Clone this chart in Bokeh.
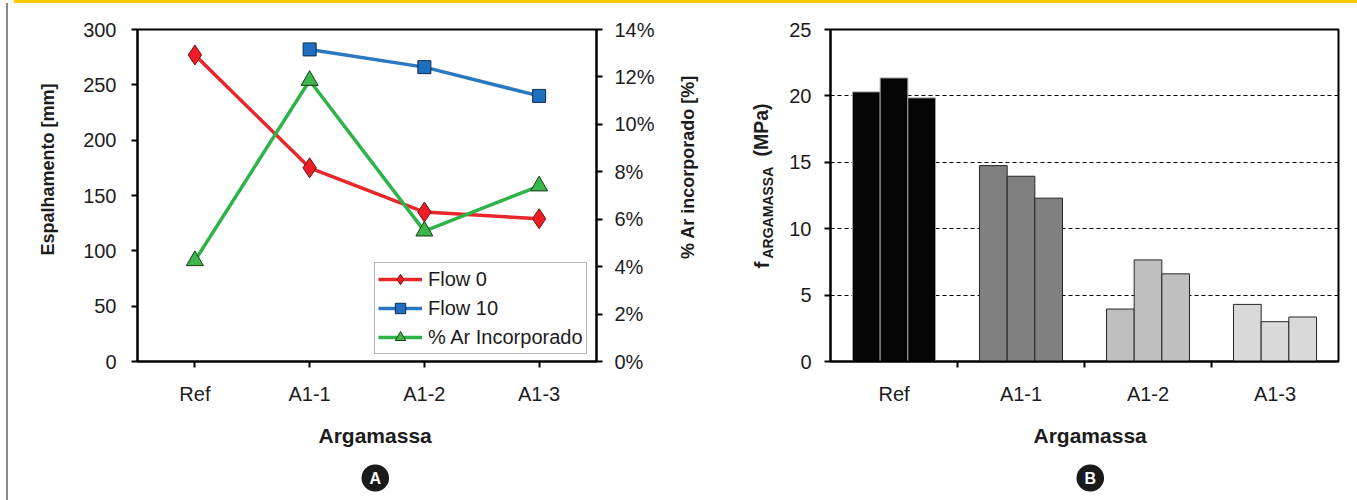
import math
from bokeh.plotting import figure
from bokeh.models import (FactorRange, Range1d, LinearAxis, FixedTicker, PrintfTickFormatter,
                          Legend, LegendItem, Label, Title, Div)
from bokeh.layouts import row, column
from bokeh.embed import file_html
from bokeh.resources import INLINE

FONT = "Liberation Sans"
TXT = "#1c1c1c"

# ---------------- data ----------------
categories = ["Ref", "A1-1", "A1-2", "A1-3"]
flow0 = [277, 175, 135, 129]
flow10 = [float("nan"), 282, 266, 240]
ar_incorporado = [4.25, 11.85, 5.5, 7.4]
spread_ticks = [0, 50, 100, 150, 200, 250, 300]
ar_ticks = [0, 2, 4, 6, 8, 10, 12, 14]

strength_1 = [20.3, 14.75, 3.95, 4.3]
strength_2 = [21.35, 13.95, 7.65, 3.0]
strength_3 = [19.85, 12.3, 6.6, 3.35]
strength_ticks = [0, 5, 10, 15, 20, 25]
bar_fill = ["#050505", "#808080", "#bfbfbf", "#d9d9d9"]
bar_line = ["#a0a0a0", "#262626", "#262626", "#262626"]


def style_axis(ax, size="20px"):
    ax.axis_line_color = "black"
    ax.axis_line_width = 2
    ax.major_tick_line_color = "black"
    ax.major_tick_line_width = 2
    ax.major_tick_in = 0
    ax.major_tick_out = 6
    ax.minor_tick_line_color = None
    ax.major_label_text_font = FONT
    ax.major_label_text_font_size = size
    ax.major_label_text_color = TXT


def x_title(text, offset):
    return Title(text=text, align="left", offset=offset, text_font=FONT,
                 text_font_size="21px", text_font_style="bold", text_color=TXT, standoff=29)


def badge(text, offset):
    return Title(text=text, align="left", offset=offset, text_font=FONT,
                 text_font_size="16px", text_font_style="bold", text_color="white",
                 background_fill_color="#1a1a1a", border_radius=14,
                 padding=dict(left=8, right=8, top=5, bottom=5), standoff=2)


def side_label(p, side, x, y, text, size, align="center"):
    p.add_layout(Label(x=x, y=y, x_units="screen", y_units="screen", text=text,
                       angle=math.pi / 2, text_font=FONT, text_font_size=size,
                       text_font_style="bold", text_color=TXT, text_align=align,
                       text_baseline="alphabetic"), side)


H = 497

# ---------------- chart A ----------------
pA = figure(width=700, height=H, x_range=FactorRange(*categories), y_range=Range1d(0, 300),
            output_backend="svg", toolbar_location=None,
            min_border_left=129, min_border_right=112, min_border_top=26, min_border_bottom=139)
pA.xgrid.visible = False
pA.ygrid.visible = False
pA.outline_line_color = "black"
pA.outline_line_width = 2

style_axis(pA.xaxis[0])
pA.xaxis[0].major_label_standoff = 15
style_axis(pA.yaxis[0])
pA.yaxis[0].ticker = FixedTicker(ticks=spread_ticks)
pA.yaxis[0].major_label_standoff = 15

pA.extra_y_ranges = {"ar": Range1d(0, 14)}
ax_r = LinearAxis(y_range_name="ar", ticker=FixedTicker(ticks=ar_ticks),
                  formatter=PrintfTickFormatter(format="%d%%"))
style_axis(ax_r)
ax_r.major_label_standoff = 12
pA.add_layout(ax_r, "right")

l0 = pA.line(categories, flow0, line_color="#e8262b", line_width=3.5)
l10 = pA.line(categories, flow10, line_color="#2a78c0", line_width=3.5)
lar = pA.line(categories, ar_incorporado, line_color="#2db34a", line_width=3.5, y_range_name="ar")
m0 = pA.scatter(categories, flow0, marker="diamond", size=20, fill_color="#ee1c25",
                line_color="#6e1010", line_width=1)
m10 = pA.scatter(categories, flow10, marker="square", size=13, fill_color="#1f6fc1",
                 line_color="#0f2a4a", line_width=1)
mar = pA.scatter(categories, ar_incorporado, marker="triangle", size=17, fill_color="#3cb54a",
                 line_color="#163d16", line_width=1, y_range_name="ar")

legend = Legend(items=[LegendItem(label="Flow 0", renderers=[l0, m0]),
                       LegendItem(label="Flow 10", renderers=[l10, m10]),
                       LegendItem(label="% Ar Incorporado", renderers=[lar, mar])],
                location=(237, 7), margin=0, padding=3, spacing=3,
                glyph_width=44, glyph_height=26, label_height=20, label_standoff=6,
                label_text_font=FONT, label_text_font_size="20px", label_text_color=TXT,
                border_line_color="#6b6b6b", border_line_width=1.5,
                background_fill_color="white", background_fill_alpha=1)
pA.add_layout(legend)
pA.add_layout(x_title("Argamassa", 181), "below")
pA.add_layout(badge("A", 224), "below")
side_label(pA, "left", -13, 192, "Espalhamento [mm]", "18px")
side_label(pA, "right", 30, 194.5, "% Ar incorporado [%]", "18px")

# ---------------- chart B ----------------
pB = figure(width=649, height=H, x_range=Range1d(0, 4), y_range=Range1d(0, 25),
            output_backend="svg", toolbar_location=None,
            min_border_left=122, min_border_right=19, min_border_top=26, min_border_bottom=139)
pB.xgrid.visible = False
pB.ygrid.ticker = FixedTicker(ticks=[5, 10, 15, 20])
pB.ygrid.grid_line_color = "black"
pB.ygrid.grid_line_dash = "4 3"
pB.ygrid.grid_line_width = 1
pB.outline_line_color = "black"
pB.outline_line_width = 2

bw = 0.218
for k, vals in enumerate([strength_1, strength_2, strength_3]):
    xs = [i + 0.5 + (k - 1) * bw for i in range(len(categories))]
    pB.vbar(x=xs, top=vals, width=bw, fill_color=bar_fill, line_color=bar_line, line_width=1)

style_axis(pB.xaxis[0])
pB.xaxis[0].ticker = FixedTicker(ticks=[i + 0.5 for i in range(len(categories))],
                                 minor_ticks=[1, 2, 3])
pB.xaxis[0].major_label_overrides = {i + 0.5: c for i, c in enumerate(categories)}
pB.xaxis[0].major_tick_out = 0
pB.xaxis[0].minor_tick_line_color = "black"
pB.xaxis[0].minor_tick_line_width = 2
pB.xaxis[0].minor_tick_in = 0
pB.xaxis[0].minor_tick_out = 6
pB.xaxis[0].major_label_standoff = 15
style_axis(pB.yaxis[0])
pB.yaxis[0].ticker = FixedTicker(ticks=strength_ticks)
pB.yaxis[0].major_label_standoff = 13

side_label(pB, "left", -2, 93, "f", "21px", align="left")
side_label(pB, "left", 20, 103, "ARGAMASSA", "14px", align="left")
side_label(pB, "left", 35, 205, "(MPa)", "19.5px", align="left")
pB.add_layout(x_title("Argamassa", 203), "below")
pB.add_layout(badge("B", 246), "below")

# decorative rules of the page (yellow top rule, grey left rule)
top_rule = Div(text="", width=1343, height=3, margin=(0, 0, 0, 14),
               styles={"background-color": "#fcc800"})
left_rule = Div(text="", width=2, height=H, margin=(0, 0, 0, 6),
                styles={"background-color": "#8a8a8a"})

layout = column(top_rule, row(left_rule, pA, pB))
open("out.html", "w").write(file_html(layout, INLINE))
